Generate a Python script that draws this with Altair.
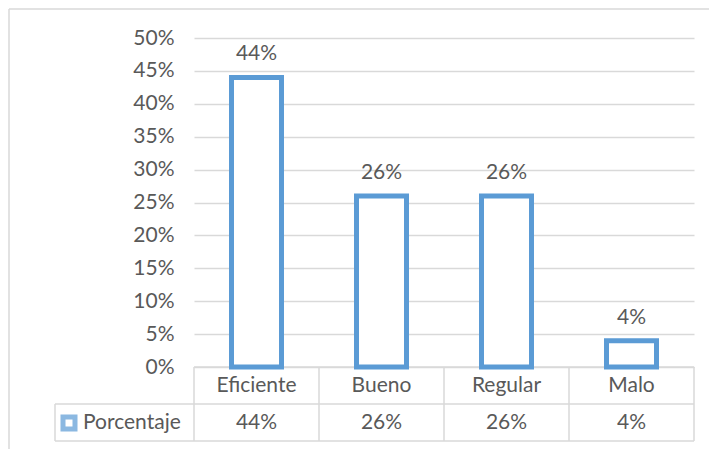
import altair as alt
import pandas as pd

# Survey result: share of answers per rating
categories = ["Eficiente", "Bueno", "Regular", "Malo"]
percentages = [0.44, 0.26, 0.26, 0.04]
series_name = "Porcentaje"
y_ticks = [0.0, 0.05, 0.10, 0.15, 0.20, 0.25, 0.30, 0.35, 0.40, 0.45, 0.50]

df = pd.DataFrame({"cat": categories, "pct": percentages})
one = pd.DataFrame({"k": [0]})

FONT = "Lato"
FS = 21
TEXT = "#595959"
GRID = "#D9D9D9"
BLUE = "#5B9BD5"
W, H = 500, 329

x_scale = alt.Scale(domain=categories, paddingInner=0, paddingOuter=0)
y_scale = alt.Scale(domain=[0, 0.5], nice=False)
y_axis = alt.Axis(
    values=y_ticks,
    format=".0%",
    domain=False,
    ticks=False,
    labelOverlap=False,
    labelPadding=20,
    labelFont=FONT,
    labelFontSize=FS,
    labelColor=TEXT,
    gridColor=GRID,
    gridWidth=1.5,
    title=None,
)

base = alt.Chart(df)

bars = base.mark_bar(width=50, fill="white", stroke=BLUE, strokeWidth=5).encode(
    x=alt.X("cat:N", scale=x_scale, axis=None, sort=categories),
    y=alt.Y("pct:Q", scale=y_scale, axis=y_axis),
)

value_labels = base.mark_text(
    font=FONT, fontSize=FS, color=TEXT, baseline="alphabetic", dy=-17
).encode(
    x=alt.X("cat:N", scale=x_scale, sort=categories, axis=None),
    y=alt.Y("pct:Q", scale=y_scale, axis=y_axis),
    text=alt.Text("pct:Q", format=".0%"),
)

# Data table under the plot: category row and value row
cat_row = base.mark_text(font=FONT, fontSize=FS, color=TEXT, baseline="middle").encode(
    x=alt.X("cat:N", scale=x_scale, sort=categories, axis=None),
    y=alt.value(H + 19),
    text="cat:N",
)
val_row = base.mark_text(font=FONT, fontSize=FS, color=TEXT, baseline="middle").encode(
    x=alt.X("cat:N", scale=x_scale, sort=categories, axis=None),
    y=alt.value(H + 56),
    text=alt.Text("pct:Q", format=".0%"),
)

col_lines = base.mark_rule(color=GRID, strokeWidth=1.5).encode(
    x=alt.X("cat:N", scale=x_scale, sort=categories, bandPosition=0, axis=None),
    y=alt.value(H),
    y2=alt.value(H + 74),
)

s = alt.Chart(one)
right_line = s.mark_rule(color=GRID, strokeWidth=1.5).encode(
    x=alt.value(W), y=alt.value(H), y2=alt.value(H + 74)
)
top_line = s.mark_rule(color=GRID, strokeWidth=1.5).encode(
    x=alt.value(0), x2=alt.value(W), y=alt.value(H)
)
mid_line = s.mark_rule(color=GRID, strokeWidth=1.5).encode(
    x=alt.value(-139), x2=alt.value(W), y=alt.value(H + 37)
)
bot_line = s.mark_rule(color=GRID, strokeWidth=1.5).encode(
    x=alt.value(-139), x2=alt.value(W), y=alt.value(H + 74)
)
left_line = s.mark_rule(color=GRID, strokeWidth=1.5).encode(
    x=alt.value(-139), y=alt.value(H + 37), y2=alt.value(H + 74)
)

legend_key = s.mark_square(size=144, fill="white", stroke=BLUE, strokeWidth=5).encode(
    x=alt.value(-125), y=alt.value(H + 56)
)
legend_text = s.mark_text(
    font=FONT, fontSize=FS, color=TEXT, align="left", baseline="middle"
).encode(x=alt.value(-111), y=alt.value(H + 56), text=alt.value(series_name))

# Outer chart frame
frame_top = s.mark_rule(color=GRID, strokeWidth=1.5).encode(
    x=alt.value(-185), x2=alt.value(W + 30), y=alt.value(-29)
)
frame_left = s.mark_rule(color=GRID, strokeWidth=1.5).encode(
    x=alt.value(-185), y=alt.value(-29), y2=alt.value(H + 100)
)

# Table lines first, bars on top of them
chart = (
    alt.layer(
        col_lines, right_line, top_line, mid_line, bot_line, left_line,
        frame_top, frame_left, bars, value_labels, cat_row, val_row,
        legend_key, legend_text,
    )
    .properties(
        width=W,
        height=H,
        autosize=alt.AutoSizeParams(type="none"),
        padding={"left": 194, "top": 38, "right": 15, "bottom": 82},
        background="white",
    )
    .configure_view(stroke=None)
)

chart.save("out.html", embed_options={"renderer": "svg", "actions": False})
